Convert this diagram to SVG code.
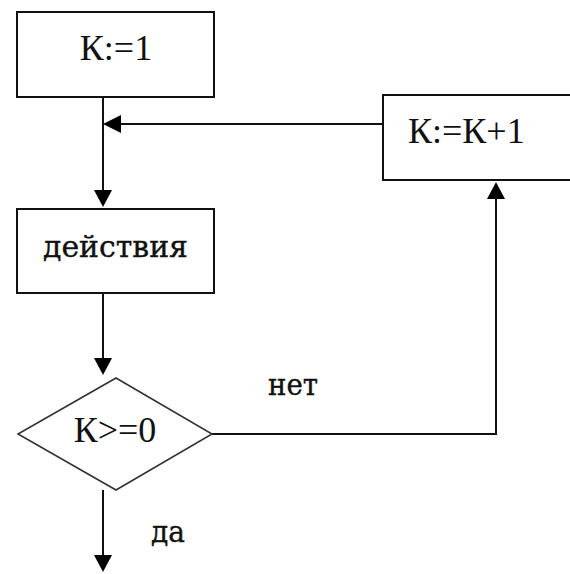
<svg xmlns="http://www.w3.org/2000/svg" width="570" height="574" viewBox="0 0 570 574">
<style>
.box{fill:#fff;stroke:#111;stroke-width:2}
.dia{fill:#fff;stroke:#333;stroke-width:1.6}
.ln{fill:none;stroke:#111;stroke-width:2}
.ah{fill:#000}
.t{font-family:"Liberation Serif",serif;font-size:36px;fill:#111}
.m{font-family:"DejaVu Serif",serif;font-size:30px;fill:#111;stroke:#111;stroke-width:0.4}
</style>
<rect width="570" height="574" fill="#fff"/>
<g id="connectors">
<line class="ln" x1="103" y1="97" x2="103" y2="200"/>
<polygon class="ah" points="94,190 112,190 103,207"/>
<line class="ln" x1="383" y1="124" x2="112" y2="124"/>
<polygon class="ah" points="121,115 121,133 103,124"/>
<line class="ln" x1="103" y1="293" x2="103" y2="365"/>
<polygon class="ah" points="94,358 112,358 103,375"/>
<polyline class="ln" points="212,434 496,434 496,192"/>
<polygon class="ah" points="487,199 505,199 496,182"/>
<line class="ln" x1="103" y1="490" x2="103" y2="560"/>
<polygon class="ah" points="94,555 112,555 103,572"/>
</g>
<g id="n1">
<rect class="box" x="17" y="12" width="197" height="85"/>
<text class="t" x="116" y="60" text-anchor="middle">К:=1</text>
</g>
<g id="n2">
<rect class="box" x="17" y="209" width="197" height="84"/>
<text class="m" x="43" y="257" textLength="145" lengthAdjust="spacingAndGlyphs">действия</text>
</g>
<g id="n3">
<rect class="box" x="383" y="95" width="190" height="85"/>
<text class="t" x="408" y="143">К:=К+1</text>
</g>
<g id="n4">
<polygon class="dia" points="116,378 212,434 116,490 18,434"/>
<text class="t" x="115" y="442" text-anchor="middle">К&gt;=0</text>
</g>
<g id="labels">
<text class="m" x="268" y="395" textLength="50" lengthAdjust="spacingAndGlyphs">нет</text>
<text class="m" x="151" y="542" textLength="34" lengthAdjust="spacingAndGlyphs">да</text>
</g>
</svg>
